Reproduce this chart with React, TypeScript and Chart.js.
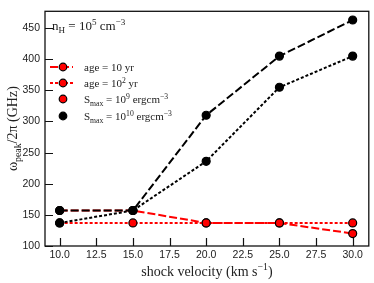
import React, { useEffect, useRef } from "react";
import { Chart, registerables } from "chart.js";
Chart.register(...registerables);

const velocities = [10, 15, 20, 25, 30];
const age10_S10 = [157, 157, 310, 405, 463];
const age100_S10 = [137, 157, 236, 355, 405];
const age10_S9 = [157, 157, 137, 137, 120];
const age100_S9 = [137, 137, 137, 137, 137];
const xTicks = [10, 12.5, 15, 17.5, 20, 22.5, 25, 27.5, 30];
const yTicks = [100, 150, 200, 250, 300, 350, 400, 450];

type Part = [string, number];
const SERIF = '"Liberation Serif", "DejaVu Serif", serif';

function richWidth(ctx: CanvasRenderingContext2D, parts: Part[], size: number) {
  let w = 0;
  for (const [t, k] of parts) {
    ctx.font = `${k === 0 ? size : size * 0.7}px ${SERIF}`;
    w += ctx.measureText(t).width;
  }
  return w;
}
function drawRich(ctx: CanvasRenderingContext2D, parts: Part[], x: number, y: number, size: number, align: "left" | "center") {
  const w = richWidth(ctx, parts, size);
  let cx = align === "center" ? x - w / 2 : x;
  ctx.textAlign = "left";
  ctx.textBaseline = "alphabetic";
  for (const [t, k] of parts) {
    const s = k === 0 ? size : size * 0.7;
    ctx.font = `${s}px ${SERIF}`;
    const dy = k === 1 ? -size * 0.4 : k === -1 ? size * 0.25 : 0;
    ctx.fillText(t, cx, y + dy);
    cx += ctx.measureText(t).width;
  }
}

const decor = {
  id: "decor",
  afterDraw(chart: any) {
    const ctx = chart.ctx as CanvasRenderingContext2D;
    const a = chart.chartArea;
    const xs = chart.scales.x, ys = chart.scales.y;
    ctx.save();
    ctx.strokeStyle = "#111";
    ctx.lineWidth = 1.3;
    ctx.strokeRect(a.left, a.top, a.right - a.left, a.bottom - a.top);
    ctx.lineWidth = 1.2;
    ctx.beginPath();
    for (const v of xTicks) {
      const px = Math.round(xs.getPixelForValue(v)) + 0.5;
      ctx.moveTo(px, a.bottom);
      ctx.lineTo(px, a.bottom - 8);
    }
    for (const v of yTicks) {
      const py = Math.round(ys.getPixelForValue(v)) + 0.5;
      ctx.moveTo(a.left, py);
      ctx.lineTo(a.left + 8, py);
    }
    ctx.stroke();
    ctx.fillStyle = "#222";
    drawRich(ctx, [["n", 0], ["H", -1], [" = 10", 0], ["5", 1], [" cm", 0], ["\u22123", 1]], a.left + 7, 30, 13, "left");
    const entries: { parts: Part[]; dash: number[] | null; fill: string; line: boolean }[] = [
      { parts: [["age = 10 yr", 0]], dash: [8, 3], fill: "#ff0000", line: true },
      { parts: [["age = 10", 0], ["2", 1], [" yr", 0]], dash: [3, 2], fill: "#ff0000", line: true },
      { parts: [["S", 0], ["max", -1], [" = 10", 0], ["9", 1], [" ergcm", 0], ["\u22123", 1]], dash: null, fill: "#ff0000", line: false },
      { parts: [["S", 0], ["max", -1], [" = 10", 0], ["10", 1], [" ergcm", 0], ["\u22123", 1]], dash: null, fill: "#000000", line: false },
    ];
    const ys0 = [67, 83, 99, 116];
    entries.forEach((e, i) => {
      const y = ys0[i];
      if (e.line) {
        ctx.strokeStyle = "#ff0000";
        ctx.lineWidth = 2;
        ctx.setLineDash(e.dash!);
        ctx.beginPath();
        ctx.moveTo(50, y);
        ctx.lineTo(73, y);
        ctx.stroke();
        ctx.setLineDash([]);
      }
      ctx.beginPath();
      ctx.arc(63, y, 3.8, 0, Math.PI * 2);
      ctx.fillStyle = e.fill;
      ctx.fill();
      ctx.strokeStyle = "#000";
      ctx.lineWidth = 1.2;
      ctx.stroke();
      ctx.fillStyle = "#222";
      drawRich(ctx, e.parts, 84, y + 4, 11, "left");
    });
    drawRich(ctx, [["shock velocity (km s", 0], ["\u22121", 1], [")", 0]], (a.left + a.right) / 2, 276, 14, "center");
    ctx.save();
    ctx.translate(17, (a.top + a.bottom) / 2);
    ctx.rotate(-Math.PI / 2);
    drawRich(ctx, [["\u03c9", 0], ["peak", -1], ["/2\u03c0 (GHz)", 0]], 0, 0, 14, "center");
    ctx.restore();
    ctx.restore();
  },
};

export default function App() {
  const ref = useRef<HTMLCanvasElement>(null);
  useEffect(() => {
    document.body.style.margin = "0";
    const mk = (data: number[], color: string, fill: string, dash: number[], order: number) => ({
      data: velocities.map((v, i) => ({ x: v, y: data[i] })),
      borderColor: color,
      backgroundColor: fill,
      borderWidth: 2,
      borderDash: dash,
      pointRadius: 4,
      pointBorderWidth: 1.2,
      pointBorderColor: "#000",
      pointBackgroundColor: fill,
      showLine: true,
      tension: 0,
      order,
    });
    const chart = new Chart(ref.current!, {
      type: "scatter",
      data: {
        datasets: [
          mk(age10_S9, "#ff0000", "#ff0000", [8, 3], 4),
          mk(age100_S9, "#ff0000", "#ff0000", [3, 2], 3),
          mk(age10_S10, "#000000", "#000000", [8, 3], 2),
          mk(age100_S10, "#000000", "#000000", [3, 2], 1),
        ],
      },
      options: {
        responsive: false,
        animation: false,
        layout: { padding: { left: 0, right: 5, top: 5, bottom: 0 } },
        plugins: { legend: { display: false }, tooltip: { enabled: false } },
        scales: {
          x: {
            type: "linear",
            min: 9,
            max: 31.1,
            grid: { display: false, drawTicks: false },
            border: { display: false },
            afterBuildTicks: (s: any) => { s.ticks = xTicks.map((v) => ({ value: v })); },
            afterFit: (s: any) => { s.height = 37; },
            ticks: {
              padding: 3,
              color: "#222",
              font: { family: '"Liberation Sans", Arial, sans-serif', size: 10.5 },
              callback: (v: any) => Number(v).toFixed(1),
              maxRotation: 0,
            },
          },
          y: {
            type: "linear",
            min: 100,
            max: 477,
            grid: { display: false, drawTicks: false },
            border: { display: false },
            afterBuildTicks: (s: any) => { s.ticks = yTicks.map((v) => ({ value: v })); },
            afterFit: (s: any) => { s.width = 45; },
            ticks: {
              padding: 5,
              color: "#222",
              font: { family: '"Liberation Sans", Arial, sans-serif', size: 10.5 },
              callback: (v: any) => String(v),
            },
          },
        },
      },
      plugins: [decor],
    } as any);
    return () => chart.destroy();
  }, []);
  return <canvas ref={ref} width={374} height={283} style={{ display: "block" }} />;
}
